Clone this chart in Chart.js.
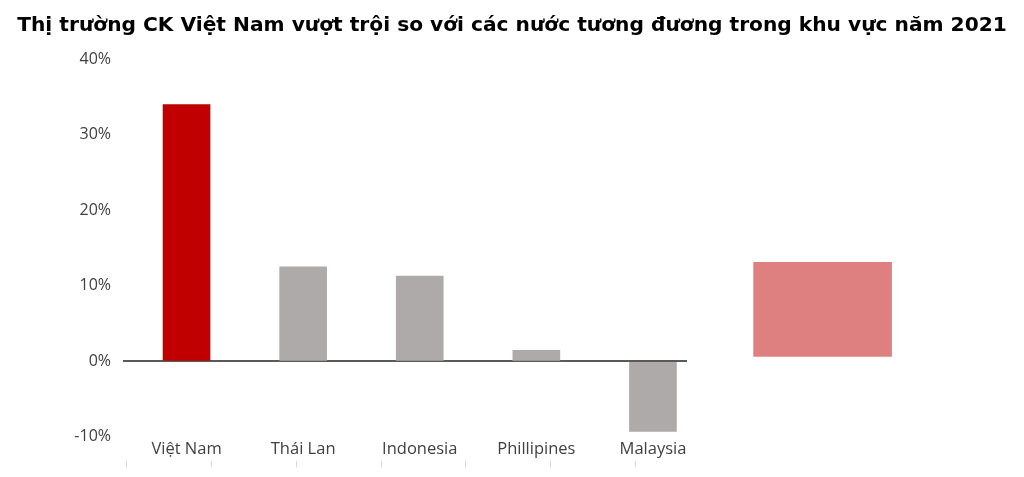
<!DOCTYPE html>
<html><head><meta charset="utf-8">
<script src="https://cdn.jsdelivr.net/npm/chart.js@4/dist/chart.umd.min.js"></script>
<style>html,body{margin:0;padding:0;background:#fff}</style>
</head><body>
<canvas id="c" width="1024" height="477"></canvas>
<script>
// ---- data ----
const titleText = 'Thị trường CK Việt Nam vượt trội so với các nước tương đương trong khu vực năm 2021';
const categories = ['Việt Nam', 'Thái Lan', 'Indonesia', 'Phillipines', 'Malaysia'];
const returns = [34.0, 12.5, 11.3, 1.45, -9.3];
const barColors = ['#C00000', '#AEAAAA', '#AEAAAA', '#AEAAAA', '#AEAAAA'];
const highlightRange = [0.66, 13.1];
const yTickValues = [-10, 0, 10, 20, 30, 40];

// ---- layout constants (not data) ----
const X_MIN = -0.545, X_MAX = 4.292;      // category index axis range
const HIGHLIGHT_X = 5.455;                 // position of the shaded box on the index axis
const FAINT_TICKS = 7;                     // faint marks under the labels
const FAINT_MIN = -0.047, FAINT_MAX = 6.612;
const FONT = "'Open Sans', 'Noto Sans', sans-serif";
const TITLE_FONT = "'DejaVu Sans', sans-serif";
const TITLE_WIDTH = 990;

// fit the title font size to the target width
const mctx = document.createElement('canvas').getContext('2d');
mctx.font = "bold 20px " + TITLE_FONT;
const titleSize = 20 * TITLE_WIDTH / mctx.measureText(titleText).width;
const titleTopPad = 14;
const titleBottomPad = 59.3 - titleTopPad - titleSize * 1.2;

const mainData = categories.map((c, i) => ({ x: i, y: returns[i] }));

new Chart(document.getElementById('c'), {
  type: 'bar',
  data: {
    datasets: [
      {
        data: mainData,
        backgroundColor: barColors,
        borderWidth: 0,
        barThickness: 47,
        stack: 'one'
      },
      {
        data: [{ x: HIGHLIGHT_X, y: highlightRange }],
        backgroundColor: '#DF8080',
        borderWidth: 0,
        barThickness: 138,
        stack: 'one',
        clip: false
      }
    ]
  },
  options: {
    responsive: false,
    animation: false,
    devicePixelRatio: 1,
    layout: { padding: { left: 0, right: 0, top: 0, bottom: 9.6 } },
    plugins: {
      legend: { display: false },
      tooltip: { enabled: false },
      title: {
        display: true,
        text: titleText,
        color: '#000000',
        font: { family: TITLE_FONT, size: titleSize, weight: 'bold', lineHeight: 1.2 },
        padding: { top: titleTopPad, bottom: titleBottomPad }
      }
    },
    scales: {
      x: {
        type: 'linear',
        position: 'bottom',
        weight: 0,
        bounds: 'data',
        offset: false,
        min: X_MIN,
        max: X_MAX,
        grid: { display: false, drawTicks: false, offset: false },
        border: { display: false },
        afterBuildTicks: s => { s.ticks = categories.map((c, i) => ({ value: i })); },
        ticks: {
          autoSkip: false,
          maxRotation: 0,
          padding: 2.4,
          color: '#404040',
          font: { family: FONT, size: 16.5 },
          callback: v => categories[Math.round(v)] ?? ''
        }
      },
      x2: {
        type: 'linear',
        position: 'bottom',
        weight: 1,
        bounds: 'data',
        offset: false,
        min: FAINT_MIN,
        max: FAINT_MAX,
        grid: { display: true, drawOnChartArea: false, drawTicks: true, tickLength: 6, color: '#D9D9D9', offset: false },
        border: { display: false },
        afterBuildTicks: s => { s.ticks = Array.from({ length: FAINT_TICKS }, (_, i) => ({ value: i })); },
        ticks: { display: false }
      },
      y: {
        type: 'linear',
        position: 'left',
        min: -10,
        max: 40,
        stacked: false,
        z: 1,
        afterFit: s => { s.width = 123; },
        afterBuildTicks: s => { s.ticks = yTickValues.map(v => ({ value: v })); },
        grid: {
          drawTicks: false,
          lineWidth: 2,
          color: ctx => (ctx.tick && ctx.tick.value === 0) ? '#5A5A5A' : 'rgba(0,0,0,0)'
        },
        border: { display: false },
        ticks: {
          padding: 12,
          color: '#404040',
          font: { family: FONT, size: 16 },
          callback: v => v + '%'
        }
      },
      yRight: {
        type: 'linear',
        position: 'right',
        min: 0,
        max: 1,
        afterFit: s => { s.width = 337; },
        grid: { display: false, drawTicks: false },
        border: { display: false },
        ticks: { display: false }
      }
    }
  }
});
</script>
</body></html>
